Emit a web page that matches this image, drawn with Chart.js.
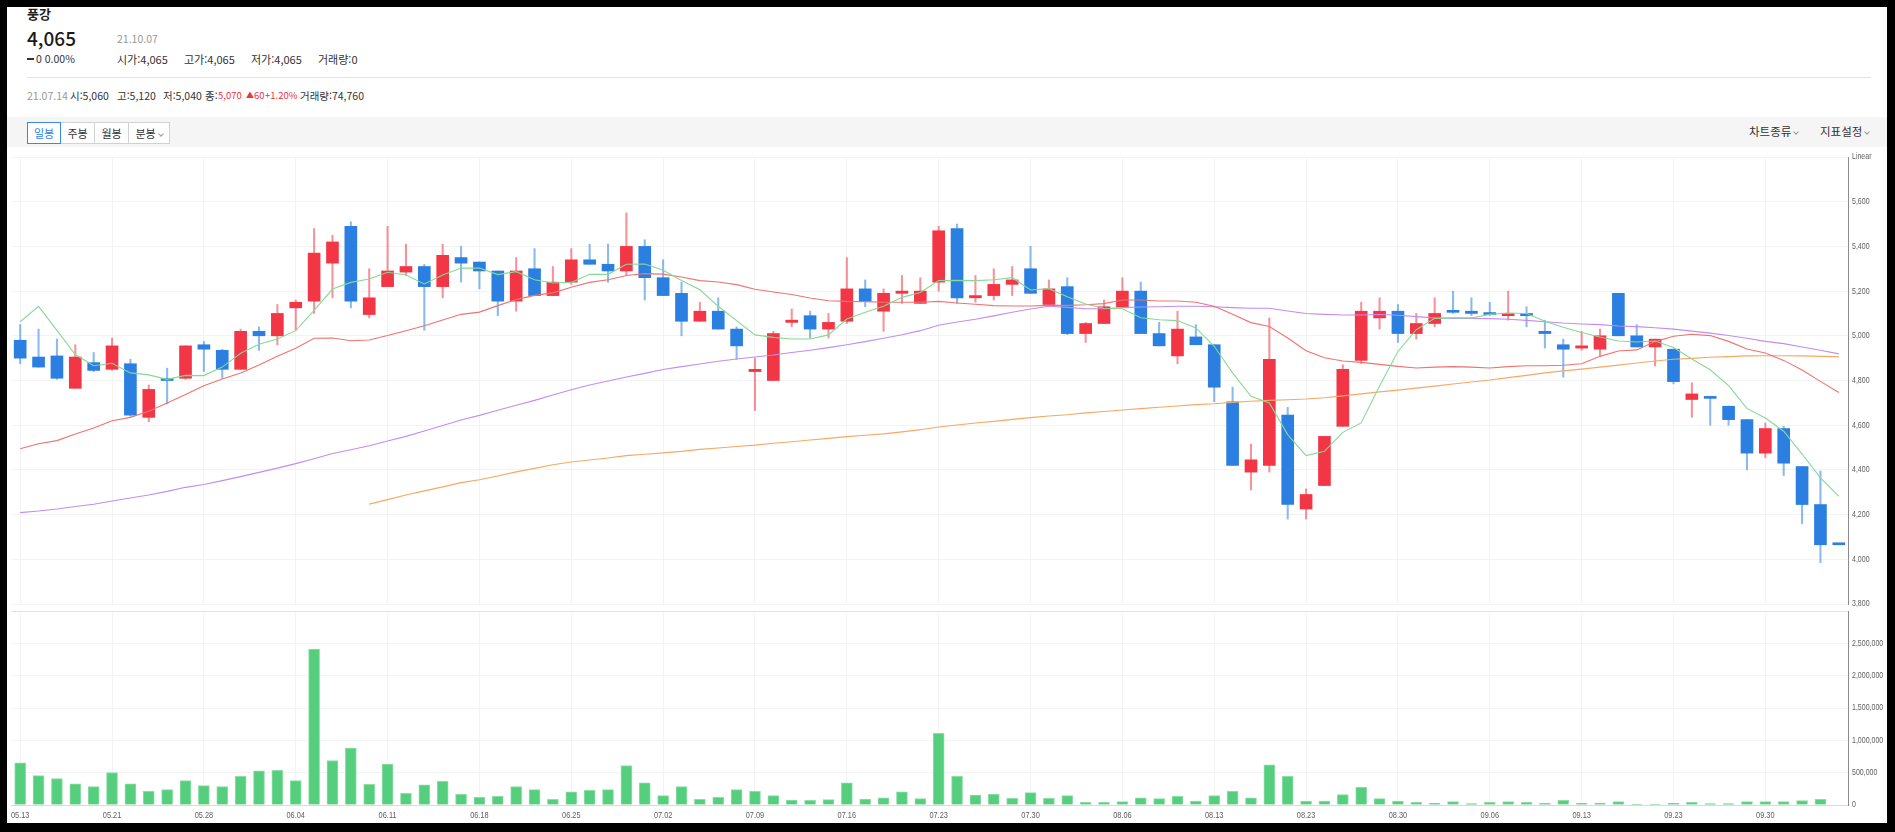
<!DOCTYPE html>
<html lang="ko">
<head>
<meta charset="utf-8">
<title>풍강</title>
<script src="https://cdn.jsdelivr.net/npm/chart.js@4.4.1/dist/chart.umd.min.js"></script>
<style>
  html, body { margin: 0; padding: 0; }
  body { width: 1895px; height: 832px; background: #000; position: relative; overflow: hidden; }
  #sheet { position: absolute; left: 7px; top: 7px; width: 1880px; height: 816px; background: #fff; }
  .t { position: absolute; white-space: nowrap; line-height: 1; font-family: "Noto Sans CJK KR", "Noto Sans", sans-serif; color: #333; }
  .grey { color: #999; }
  .red { color: #f0323f; }
  .tri { font-size: 8px; position: relative; top: -1px; }
  #rule { position: absolute; left: 27px; top: 77px; width: 1844px; height: 1px; background: #e3e3e3; }
  #toolbar { position: absolute; left: 7px; top: 117px; width: 1880px; height: 30px; background: #f5f5f5; }
  .btn { position: absolute; top: 122px; height: 20px; background: #fff; border: 1px solid #d2d2d2; font-family: "Noto Sans CJK KR", sans-serif; font-size: 11px; line-height: 20px; text-align: center; color: #333; box-sizing: content-box; }
  .btn.on { border-color: #3b87f0; color: #2f7fe8; z-index: 2; }
  .chev { display: inline-block; width: 3px; height: 3px; border-right: 1px solid #999; border-bottom: 1px solid #999; transform: rotate(45deg); margin-left: 3px; position: relative; top: -2px; }
  .dash { display: inline-block; width: 7px; height: 2px; background: #333; vertical-align: middle; margin-right: 2px; position: relative; top: -1px; }
  canvas { position: absolute; }
</style>
</head>
<body>
<div id="sheet"></div>

<div class="t" style="left:27px;top:7px;font-size:13px;font-weight:600;color:#222;">풍강</div>
<div class="t" style="left:27px;top:28px;font-size:19px;font-weight:500;color:#1a1a1a;">4,065</div>
<div class="t grey" style="left:117px;top:34px;font-size:10.5px;">21.10.07</div>
<div class="t" style="left:27px;top:54px;font-size:10.5px;"><span class="dash"></span>0 0.00%</div>
<div class="t" style="left:117px;top:54px;font-size:11px;">시가:4,065</div>
<div class="t" style="left:184px;top:54px;font-size:11px;">고가:4,065</div>
<div class="t" style="left:251px;top:54px;font-size:11px;">저가:4,065</div>
<div class="t" style="left:318px;top:54px;font-size:11px;">거래량:0</div>
<div id="rule"></div>

<div class="t grey" style="left:27px;top:91px;font-size:10.5px;">21.07.14</div>
<div class="t" style="left:70px;top:91px;font-size:10.5px;">시:5,060</div>
<div class="t" style="left:117px;top:91px;font-size:10.5px;">고:5,120</div>
<div class="t" style="left:163px;top:91px;font-size:10.5px;">저:5,040</div>
<div class="t" style="left:205px;top:91px;font-size:10.5px;">종:</div>
<div class="t red" style="left:218px;top:91px;font-size:9.5px;">5,070</div>
<div class="t red" style="left:246px;top:91px;font-size:9.5px;"><span class="tri">▲</span>60</div>
<div class="t red" style="left:265px;top:91px;font-size:9.5px;">+1.20%</div>
<div class="t" style="left:300px;top:91px;font-size:10.5px;">거래량:74,760</div>

<div id="toolbar"></div>
<div class="btn on" style="left:27px;width:32px;">일봉</div>
<div class="btn" style="left:60px;width:33px;">주봉</div>
<div class="btn" style="left:94px;width:33px;">월봉</div>
<div class="btn" style="left:128px;width:40px;">분봉<span class="chev"></span></div>
<div class="t" style="left:1749px;top:126px;font-size:11.5px;">차트종류<span class="chev"></span></div>
<div class="t" style="left:1820px;top:126px;font-size:11.5px;">지표설정<span class="chev"></span></div>

<canvas id="price" width="1879" height="460" style="left:8px;top:149px;"></canvas>
<canvas id="volume" width="1879" height="214" style="left:8px;top:609px;"></canvas>

<script>
'use strict';

// ── Data (daily candles, 100 sessions) ───────────────────────────────────────
const xTickLabels = ['05.13', '05.21', '05.28', '06.04', '06.11', '06.18', '06.25', '07.02', '07.09', '07.16',
  '07.23', '07.30', '08.06', '08.13', '08.23', '08.30', '09.06', '09.13', '09.23', '09.30'];

const opens = [
  4980, 4905, 4910, 4765, 4880, 4850, 4875, 4635, 4805, 4810, 4960, 4935, 4850, 5020, 5000, 5125, 5155, 5325, 5490, 5095,
  5220, 5285, 5310, 5220, 5350, 5330, 5290, 5155, 5300, 5180, 5240, 5340, 5320, 5290, 5400, 5260, 5190, 5065, 5110, 5030,
  4840, 4800, 5060, 5090, 5030, 5065, 5210, 5110, 5190, 5145, 5240, 5480, 5170, 5180, 5230, 5300, 5140, 5220, 5010, 5055,
  5130, 5200, 5010, 4910, 4995, 4960, 4705, 4390, 4420, 4645, 4225, 4330, 4595, 4890, 5080, 5110, 5010, 5055, 5110, 5110,
  5100, 5090, 5100, 5020, 4960, 4945, 4940, 5190, 5000, 4950, 4940, 4715, 4725, 4685, 4625, 4475, 4585, 4415, 4245, 4065];
const highs = [
  5050, 5030, 4985, 4960, 4925, 4990, 4895, 4780, 4855, 4955, 4975, 4940, 5030, 5040, 5140, 5160, 5480, 5450, 5510, 5300,
  5490, 5410, 5320, 5410, 5400, 5330, 5290, 5350, 5390, 5310, 5390, 5410, 5410, 5550, 5430, 5340, 5240, 5150, 5170, 5040,
  4900, 5020, 5120, 5110, 5100, 5350, 5250, 5210, 5270, 5260, 5490, 5500, 5270, 5300, 5310, 5400, 5250, 5260, 5060, 5160,
  5260, 5240, 5060, 5110, 5050, 4960, 4770, 4515, 5080, 4680, 4315, 4550, 4870, 5150, 5170, 5140, 5100, 5170, 5200, 5170,
  5150, 5200, 5130, 5070, 4985, 5020, 5030, 5190, 5050, 4985, 4940, 4790, 4725, 4685, 4625, 4610, 4595, 4415, 4395, 4065];
const lows = [
  4875, 4860, 4805, 4765, 4840, 4845, 4640, 4615, 4695, 4805, 4840, 4810, 4850, 4935, 4960, 5025, 5100, 5170, 5125, 5080,
  5220, 5270, 5025, 5170, 5240, 5210, 5090, 5110, 5180, 5180, 5230, 5320, 5240, 5270, 5160, 5180, 5000, 5065, 5030, 4895,
  4665, 4800, 5040, 4990, 4990, 5055, 5130, 5020, 5145, 5145, 5200, 5145, 5150, 5160, 5180, 5190, 5140, 5005, 4970, 5055,
  5130, 5010, 4955, 4875, 4960, 4705, 4420, 4310, 4390, 4180, 4180, 4330, 4595, 4875, 5030, 4970, 4985, 5040, 5100, 5090,
  5090, 5070, 5040, 4945, 4815, 4935, 4910, 5000, 4950, 4865, 4785, 4635, 4600, 4600, 4400, 4455, 4375, 4160, 3985, 4065];
const closes = [
  4900, 4860, 4810, 4905, 4845, 4955, 4645, 4760, 4800, 4955, 4940, 4850, 5020, 5000, 5100, 5150, 5370, 5420, 5155, 5170,
  5290, 5310, 5220, 5360, 5325, 5290, 5155, 5290, 5180, 5240, 5340, 5320, 5290, 5400, 5260, 5180, 5065, 5110, 5030, 4955,
  4850, 5010, 5070, 5030, 5060, 5210, 5155, 5190, 5200, 5200, 5470, 5170, 5180, 5230, 5250, 5190, 5210, 5010, 5055, 5130,
  5200, 5010, 4955, 5030, 4960, 4770, 4420, 4445, 4895, 4245, 4290, 4550, 4850, 5110, 5110, 5010, 5055, 5100, 5105, 5100,
  5095, 5100, 5090, 5010, 4940, 4955, 5000, 5000, 4950, 4985, 4795, 4740, 4720, 4625, 4475, 4585, 4430, 4245, 4065, 4065];
const volumes = [
  652000, 455000, 409000, 326000, 285000, 502000, 326000, 212000, 238000, 378000,
  300000, 285000, 445000, 528000, 538000, 378000, 2410000, 688000, 880000, 321000,
  631000, 181000, 311000, 367000, 166000, 119000, 135000, 285000, 238000, 88000,
  202000, 228000, 238000, 611000, 342000, 145000, 285000, 88000, 119000, 238000,
  212000, 145000, 74760, 72000, 83000, 342000, 93000, 109000, 202000, 98000,
  1108000, 445000, 155000, 166000, 104000, 192000, 104000, 145000, 41000, 41000,
  52000, 109000, 98000, 135000, 62000, 145000, 212000, 109000, 621000, 445000,
  62000, 62000, 160000, 274000, 98000, 62000, 41000, 26000, 52000, 21000,
  41000, 52000, 41000, 26000, 72000, 26000, 26000, 52000, 10000, 16000,
  26000, 41000, 21000, 21000, 52000, 52000, 52000, 67000, 88000, 0];

// moving averages as drawn (5 / 20 / 60 / 120 days)
const ma5 = [
  5063, 5132, 5024, 4916, 4866, 4877, 4834, 4825, 4805, 4823, 4822, 4860, 4922, 4962, 4986, 5023, 5114, 5209, 5239, 5254,
  5284, 5272, 5232, 5272, 5303, 5303, 5274, 5287, 5251, 5236, 5239, 5275, 5275, 5320, 5321, 5293, 5247, 5206, 5132, 5068,
  5004, 4993, 4986, 4986, 5004, 5075, 5105, 5132, 5172, 5194, 5247, 5248, 5247, 5251, 5260, 5205, 5211, 5175, 5142, 5123,
  5121, 5081, 5072, 5068, 5035, 4953, 4834, 4729, 4699, 4558, 4464, 4483, 4568, 4610, 4775, 4930, 5027, 5078, 5080, 5080,
  5096, 5102, 5100, 5065, 5038, 5015, 4995, 4977, 4972, 4977, 4948, 4896, 4848, 4777, 4675, 4632, 4573, 4471, 4364, 4282];
const ma20 = [
  4495, 4517, 4531, 4561, 4587, 4620, 4635, 4662, 4699, 4737, 4777, 4807, 4834, 4869, 4908, 4944, 4989, 4990, 4978, 4981,
  5001, 5023, 5045, 5071, 5096, 5106, 5135, 5162, 5181, 5192, 5217, 5239, 5251, 5270, 5278, 5276, 5263, 5247, 5241, 5229,
  5208, 5196, 5185, 5169, 5157, 5154, 5153, 5150, 5150, 5150, 5154, 5147, 5141, 5135, 5133, 5133, 5136, 5136, 5139, 5144,
  5160, 5160, 5156, 5156, 5150, 5132, 5096, 5059, 5042, 4990, 4933, 4902, 4887, 4881, 4872, 4863, 4856, 4860, 4862, 4860,
  4856, 4862, 4866, 4866, 4868, 4875, 4908, 4932, 4937, 4974, 4998, 5007, 5001, 4975, 4941, 4923, 4890, 4847, 4796, 4746];
const ma60 = [
  4209, 4216, 4225, 4236, 4246, 4261, 4274, 4288, 4304, 4322, 4335, 4352, 4370, 4389, 4408, 4428, 4450, 4473, 4490, 4508,
  4529, 4550, 4574, 4599, 4623, 4644, 4667, 4689, 4711, 4735, 4759, 4780, 4798, 4816, 4832, 4849, 4862, 4874, 4886, 4896,
  4905, 4914, 4925, 4935, 4947, 4960, 4974, 4989, 5005, 5023, 5047, 5062, 5074, 5089, 5105, 5120, 5132, 5127, 5121, 5121,
  5126, 5129, 5130, 5132, 5132, 5130, 5126, 5123, 5123, 5111, 5100, 5096, 5093, 5093, 5095, 5092, 5086, 5080, 5078, 5078,
  5077, 5074, 5069, 5063, 5057, 5053, 5050, 5044, 5041, 5036, 5030, 5021, 5012, 5001, 4989, 4975, 4965, 4950, 4935, 4919];
const ma120 = [
  null, null, null, null, null, null, null, null, null, null, null, null, null, null, null, null, null, null, null, 4247,
  4267, 4288, 4306, 4324, 4343, 4356, 4373, 4391, 4407, 4423, 4435, 4444, 4453, 4464, 4470, 4476, 4483, 4492, 4498, 4505,
  4511, 4519, 4526, 4534, 4541, 4549, 4555, 4561, 4570, 4580, 4592, 4601, 4610, 4617, 4626, 4634, 4641, 4647, 4655, 4661,
  4668, 4674, 4680, 4686, 4692, 4696, 4702, 4707, 4711, 4714, 4717, 4723, 4731, 4740, 4749, 4757, 4766, 4775, 4784, 4793,
  4802, 4813, 4823, 4834, 4843, 4851, 4860, 4869, 4878, 4887, 4895, 4899, 4904, 4907, 4910, 4911, 4911, 4910, 4908, 4907];

// ── Styling ──────────────────────────────────────────────────────────────────
const COLORS = {
  up:       '#f23645',
  down:     '#2a7fe0',
  upWick:   'rgba(242,54,69,0.55)',
  downWick: 'rgba(42,127,224,0.55)',
  vol:      '#55cf7e',
  volEdge:  '#8ddfa6',
  ma5:      '#86d994',
  ma20:     '#ef7471',
  ma60:     '#c38cf3',
  ma120:    '#f6a964',
  grid:     '#f3f3f4',
  axis:     '#8c8c8c',
  tick:     '#5e5e5e',
};
const AXIS_W = 39;
const LABEL_FONT = '9px "Liberation Sans", Arimo, sans-serif';
const LABEL_SQUEEZE = 0.78;   // the source chart uses a condensed face

const sessions = opens.map((_, i) => i);
const isUp = closes.map((c, i) => c > opens[i]);

const xGrid = {
  offset: false,
  drawTicks: false,
  color: ctx => (ctx.index % 5 === 0 ? COLORS.grid : 'rgba(0,0,0,0)'),
};

// Tick labels drawn by hand so they can be narrowed like the original's font
const narrowTicks = {
  id: 'narrowTicks',
  afterDraw(chart, _args, opts) {
    const { ctx, scales } = chart;
    ctx.save();
    ctx.font = LABEL_FONT;
    ctx.fillStyle = COLORS.tick;
    ctx.textBaseline = 'middle';
    if (opts.yLabel) {
      const s = scales.y;
      s.ticks.forEach(t => {
        const text = opts.yLabel(t.value);
        if (!text) return;
        ctx.save();
        ctx.translate(s.left + 4, s.getPixelForValue(t.value));
        ctx.scale(LABEL_SQUEEZE, 1);
        ctx.textAlign = 'left';
        ctx.fillText(text, 0, 0);
        ctx.restore();
      });
    }
    if (opts.xLabel) {
      const s = scales.x;
      s.ticks.forEach((_t, i) => {
        const text = opts.xLabel(i);
        if (!text) return;
        ctx.save();
        ctx.translate(s.getPixelForTick(i), s.top + 11);
        ctx.scale(LABEL_SQUEEZE + 0.04, 1);
        ctx.textAlign = 'center';
        ctx.fillText(text, 0, 0);
        ctx.restore();
      });
    }
    ctx.restore();
  },
};

function maLine(label, data, color) {
  return {
    type: 'line', label, data,
    borderColor: color, borderWidth: 1.1,
    pointRadius: 0, tension: 0, fill: false, order: 0,
  };
}

Chart.defaults.animation = false;
Chart.defaults.plugins.legend.display = false;
Chart.defaults.plugins.tooltip.enabled = false;

// ── Price pane (candles + moving averages) ───────────────────────────────────
new Chart(document.getElementById('price'), {
  type: 'bar',
  plugins: [narrowTicks],
  data: {
    labels: sessions,
    datasets: [
      maLine('5', ma5, COLORS.ma5),
      maLine('20', ma20, COLORS.ma20),
      maLine('60', ma60, COLORS.ma60),
      maLine('120', ma120, COLORS.ma120),
      {
        label: 'body',
        data: opens.map((o, i) => [o, closes[i]]),
        backgroundColor: isUp.map(u => (u ? COLORS.up : COLORS.down)),
        borderWidth: 0,
        barThickness: 12,
        minBarLength: 2,
        grouped: false,
        order: 1,
      },
      {
        label: 'wick',
        data: lows.map((l, i) => [l, highs[i]]),
        backgroundColor: isUp.map(u => (u ? COLORS.upWick : COLORS.downWick)),
        borderWidth: 0,
        barThickness: 1.4,
        grouped: false,
        order: 2,
      },
    ],
  },
  options: {
    responsive: false,
    layout: { padding: { left: 3, top: 8, right: 0, bottom: 5 } },
    plugins: {
      narrowTicks: { yLabel: v => (v === 5800 ? 'Linear' : v.toLocaleString('en-US')) },
    },
    scales: {
      x: {
        offset: true,
        grid: xGrid,
        border: { display: false },
        ticks: { display: false, autoSkip: false },
        afterFit: s => { s.height = 0; },
      },
      y: {
        position: 'right',
        min: 3800, max: 5800,
        grid: { color: COLORS.grid, drawTicks: false },
        border: { display: true, color: COLORS.axis },
        ticks: { display: false, stepSize: 200 },
        afterFit: s => { s.width = AXIS_W; },
      },
    },
  },
});

// ── Volume pane ──────────────────────────────────────────────────────────────
new Chart(document.getElementById('volume'), {
  type: 'bar',
  plugins: [narrowTicks],
  data: {
    labels: sessions,
    datasets: [{
      label: '거래량',
      data: volumes,
      backgroundColor: COLORS.vol,
      borderColor: COLORS.volEdge,
      borderWidth: { top: 1, left: 1, right: 1, bottom: 0 },
      barThickness: 11,
    }],
  },
  options: {
    responsive: false,
    layout: { padding: { left: 3, top: 2, right: 0, bottom: 0 } },
    plugins: {
      narrowTicks: {
        yLabel: v => (v === 3000000 ? '' : v.toLocaleString('en-US')),
        xLabel: i => (i % 5 === 0 ? xTickLabels[i / 5] : ''),
      },
    },
    scales: {
      x: {
        offset: true,
        grid: xGrid,
        border: { display: true, color: '#d6dbe2' },
        ticks: { display: false, autoSkip: false },
        afterFit: s => { s.height = 18; },
      },
      y: {
        position: 'right',
        min: 0, max: 3000000,
        grid: { color: ctx => (ctx.tick && ctx.tick.value === 3000000 ? '#e4e4e4' : COLORS.grid), drawTicks: false },
        border: { display: true, color: COLORS.axis },
        ticks: { display: false, stepSize: 500000 },
        afterFit: s => { s.width = AXIS_W; },
      },
    },
  },
});
</script>
</body>
</html>
